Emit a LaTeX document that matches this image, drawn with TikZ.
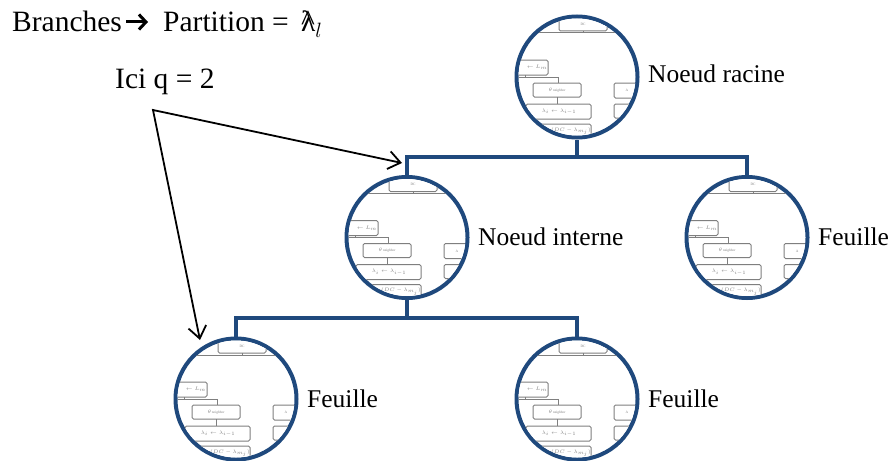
\documentclass[tikz,border=0pt]{standalone}
\usepackage{fontspec}
\setmainfont{Liberation Serif}
\usetikzlibrary{arrows.meta}
\definecolor{navy}{HTML}{1F497D}
\definecolor{boxgray}{HTML}{7F7F7F}
\newcommand\minitree[1]{%
  \begin{scope}[shift={(#1.center)}]
    \clip (0,0) circle [radius=58.5pt];
    \draw[minibox] (-18,-60) rectangle (30,-46);
    \node[minitxt] at (6,-53) {DC};
    \draw[miniline] (6,-46) -- (6,-44);
    \draw[miniline] (-70,-44) -- (70,-44);
    \draw[minibox] (-80,-17) rectangle (-29,-2);
    \node[minitxt] at (-40,-9.5) {$\leftarrow L_m$};
    \draw[miniline] (-52,-2) -- (-52,0);
    \draw[miniline] (-70,0) -- (-19,0) -- (-19,6);
    \draw[minibox] (-44,6) rectangle (4,20);
    \node[minitxt] at (-20,13) {$\theta$ neighbor};
    \draw[miniline] (-20,20) -- (-20,27);
    \draw[minibox] (-51,27) rectangle (14,42);
    \node[minitxt] at (-18,34.5) {$\lambda_i \leftarrow \lambda_{i-1}$};
    \draw[minibox] (-54,47) rectangle (14,70);
    \node[minitxt] at (-6,54) {$(DC - \lambda_{m_j})$};
    \draw[minibox] (37,6) rectangle (90,21);
    \node[minitxt] at (50,13.5) {A};
    \draw[minibox] (37,27) rectangle (90,41);
  \end{scope}}
\begin{document}
\begin{tikzpicture}[x=1pt,y=-1pt,
  bubble/.style={circle, draw=navy, line width=4pt, minimum size=121pt, inner sep=0pt},
  conn/.style={draw=navy, line width=4pt},
  pointer/.style={draw=black, line width=1.8pt, line join=miter,
    {Straight Barb[length=12pt,width=18pt,line width=1.8pt]}-{Straight Barb[length=12pt,width=18pt,line width=1.8pt]}},
  boldarrow/.style={draw=black, line width=3pt,
    -{Straight Barb[length=7pt,width=15pt,line width=3pt]}},
  lbl/.style={anchor=base west, inner sep=0pt, font=\fontsize{25.5}{30}\selectfont},
  big/.style={anchor=base west, inner sep=0pt, font=\fontsize{29.5}{35}\selectfont},
  minibox/.style={draw=boxgray, rounded corners=1.5pt, line width=1pt, fill=white},
  miniline/.style={draw=boxgray, line width=1pt},
  minitxt/.style={font=\fontsize{3.5}{4}\selectfont, text=gray, inner sep=0pt},
]
\useasboundingbox (0,0) rectangle (893,460);

% circles
\node[bubble] (root) at (577,77) {};
\node[bubble] (int) at (407,237.5) {};
\node[bubble] (leafR) at (747,237.5) {};
\node[bubble] (leafA) at (236,399) {};
\node[bubble] (leafB) at (577,399) {};

\minitree{root}
\minitree{int}
\minitree{leafR}
\minitree{leafA}
\minitree{leafB}

% connectors
\coordinate (busT) at (577,157);
\coordinate (busM) at (407,318);
\draw[conn] (root.south) -- (busT);
\draw[conn] (int.north) |- (busT) -| (leafR.north);
\draw[conn] (int.south) -- (busM);
\draw[conn] (leafA.north) |- (busM) -| (leafB.north);

% labels
\node[lbl] (lroot) at (648,82) {Noeud racine};
\node[lbl] (lint) at (478,245) {Noeud interne};
\node[lbl] (lR) at (818,245) {Feuille};
\node[lbl] (lA) at (307,407) {Feuille};
\node[lbl] (lB) at (648,407) {Feuille};

% title texts
\node[big] (branches) at (12,32) {Branches};
\node[big] (partition) at (163,32) {Partition = \,\makebox[0pt][l]{\raisebox{1pt}{\^{}}}λ$_{l}$};
\draw[boldarrow] ([xshift=4pt,yshift=10pt]branches.base east) -- ([xshift=-15pt,yshift=10pt]partition.base west);
\node[big] (ici) at (115,88) {Ici q = 2};

% pointer arrows
\coordinate (iciPt) at (153,110);
\coordinate (tipA) at (402,163);
\coordinate (tipB) at (200,340);
\draw[pointer] (tipA) -- (iciPt) -- (tipB);
\end{tikzpicture}
\end{document}
